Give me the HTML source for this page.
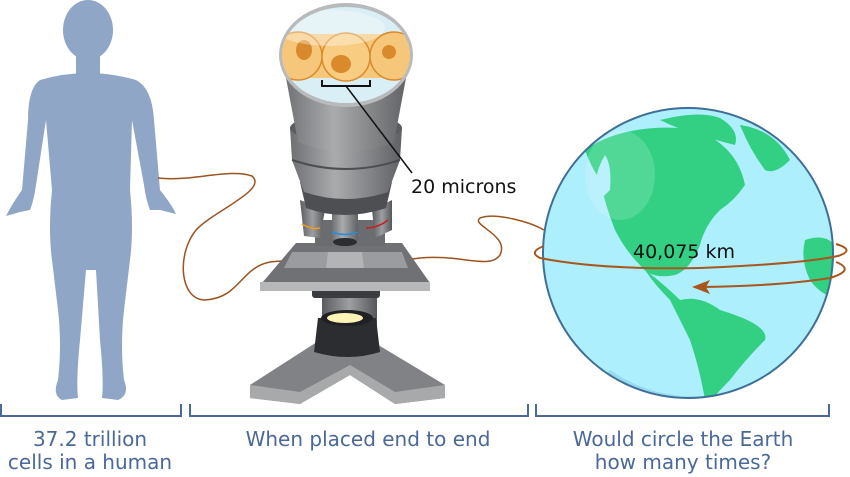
<!DOCTYPE html>
<html><head><meta charset="utf-8"><style>
html,body{margin:0;padding:0;background:#fff;}
svg{display:block;}
text{font-family:"DejaVu Sans","Liberation Sans",sans-serif;}
</style></head><body>
<svg width="850" height="477" viewBox="0 0 850 477" xmlns="http://www.w3.org/2000/svg">
<defs>
<linearGradient id="g1" x1="0" x2="1"><stop offset="0" stop-color="#6d6f72"/><stop offset=".4" stop-color="#a9abad"/><stop offset="1" stop-color="#5f6164"/></linearGradient>
<linearGradient id="g2" x1="0" x2="1"><stop offset="0" stop-color="#5a5c5f"/><stop offset=".5" stop-color="#9c9ea1"/><stop offset="1" stop-color="#555759"/></linearGradient>
<clipPath id="globe"><circle cx="688" cy="253" r="145"/></clipPath>
<clipPath id="lens"><ellipse cx="346" cy="55" rx="64" ry="48"/></clipPath>
</defs>

<!-- Human silhouette -->
<g fill="#8fa6c6">
<ellipse cx="88" cy="30" rx="25" ry="30"/>
<rect x="76" y="50" width="24" height="28"/>
<path d="M40 80 Q88 66 136 80 Q152 88 154 120 L160 190 Q172 205 176 214 L160 210 L150 210 Q146 200 144 185 L132 120 L130 190 Q134 230 130 260 L124 310 Q120 345 124 380 Q130 395 118 400 L102 398 Q104 380 100 340 L96 270 L86 270 L80 340 Q76 380 78 398 L62 400 Q52 395 58 380 Q62 345 58 310 L52 260 Q48 230 52 190 L46 120 L36 185 Q34 200 30 210 L20 212 L6 216 Q12 204 22 190 L28 120 Q28 88 40 80Z"/>
</g>

<!-- brown connector line -->
<path d="M158 178 C190 182 230 168 252 176 C268 190 215 210 196 230 C176 255 180 300 205 300 C240 298 240 268 270 262 C300 258 380 264 420 258 C460 254 490 270 500 255 C510 235 470 225 480 218 C495 212 530 222 544 230" fill="none" stroke="#9b531f" stroke-width="1.5"/>

<!-- Microscope base -->
<path d="M320 340 L370 340 L445 385 L445 398 L395 404 L350 375 L300 404 L250 398 L250 385 Z" fill="#808285"/>
<path d="M250 385 L300 392 L350 365 L395 392 L445 385 L445 398 L395 404 L350 375 L300 404 L250 398Z" fill="#a7a9ab"/>
<rect x="322" y="290" width="55" height="55" fill="url(#g2)"/>
<path d="M318 318 L376 318 L380 352 Q348 362 314 352Z" fill="#2b2d30"/>
<ellipse cx="347" cy="318" rx="26" ry="8" fill="#1f2124"/>
<ellipse cx="345" cy="318" rx="18" ry="5" fill="#fdf3b8"/>
<rect x="312" y="288" width="68" height="10" rx="3" fill="#3a3c3f"/>

<!-- Stage -->
<path d="M296 243 L402 243 L430 283 L262 283 Z" fill="#6f7174"/>
<rect x="260" y="282" width="170" height="9" fill="#b5b7b9"/>
<path d="M292 252 L402 252 L408 268 L284 268Z" fill="#9a9c9f"/>
<path d="M328 252 L362 252 L364 268 L326 268Z" fill="#b2b4b6"/>
<rect x="315" y="220" width="70" height="26" fill="#6a6c6f"/>

<!-- objectives -->
<path d="M300 200 L325 210 L320 238 L304 236 Z" fill="url(#g2)"/>
<path d="M372 210 L392 200 L392 230 L375 238Z" fill="url(#g2)"/>
<path d="M302 224 Q312 230 320 228" stroke="#f29a1c" stroke-width="1.5" fill="none"/>
<path d="M366 228 Q378 228 388 220" stroke="#c0221f" stroke-width="1.5" fill="none"/>
<rect x="332" y="208" width="26" height="32" fill="url(#g1)"/>
<path d="M332 232 Q345 237 358 232" stroke="#1f8fe0" stroke-width="1.5" fill="none"/>
<ellipse cx="345" cy="242" rx="12" ry="4" fill="#2b2d30"/>

<!-- nosepiece -->
<path d="M300 182 L392 182 L386 208 Q345 222 306 208Z" fill="#4d4f52"/>

<!-- collar bowl -->
<path d="M290 128 Q346 108 402 128 L400 160 L388 192 Q346 206 304 192 L292 160Z" fill="url(#g1)"/>
<path d="M292 160 Q346 178 400 160" stroke="#4c4e51" stroke-width="2" fill="none"/>
<ellipse cx="346" cy="128" rx="56" ry="14" fill="#5a5c5f"/>

<!-- eyepiece cone -->
<path d="M283 62 L409 62 L394 142 Q346 162 298 142Z" fill="url(#g1)"/>
<ellipse cx="346" cy="55" rx="67" ry="52" fill="#b8babc"/>
<ellipse cx="346" cy="55" rx="64" ry="48" fill="#d9eef5"/>
<g clip-path="url(#lens)">
<rect x="280" y="34" width="140" height="44" fill="#f4c77a"/>
<circle cx="298" cy="56" r="24" fill="#f6c67a" stroke="#d98a2c" stroke-width="1.5"/>
<circle cx="394" cy="56" r="24" fill="#f6c67a" stroke="#d98a2c" stroke-width="1.5"/>
<circle cx="346" cy="57" r="24" fill="#f8cd82" stroke="#d98a2c" stroke-width="1.5"/>
<ellipse cx="304" cy="50" rx="8" ry="10" fill="#d98a2c"/>
<ellipse cx="341" cy="64" rx="10" ry="9" fill="#d98a2c"/>
<ellipse cx="389" cy="52" rx="7" ry="7" fill="#d98a2c"/>
<ellipse cx="330" cy="28" rx="55" ry="18" fill="#fff" opacity=".35"/>
</g>
<path d="M322 80 L322 86 L370 86 L370 80" stroke="#111" stroke-width="2" fill="none"/>
<line x1="346" y1="86" x2="412" y2="173" stroke="#111" stroke-width="1.5"/>
<text x="411" y="193" font-size="19" fill="#111">20 microns</text>

<!-- Globe -->
<circle cx="688" cy="253" r="145" fill="#aeeffd"/>
<g clip-path="url(#globe)">
<path d="M610 370 A145 145 0 0 0 830 300 L840 420 L560 420Z" fill="#97d9ee"/>
<path d="M585 150 Q620 125 680 128 Q705 130 722 145 Q740 160 745 185 Q735 200 720 210 Q705 225 700 245 Q690 270 675 275 Q650 280 640 265 Q625 250 615 230 Q605 205 600 180 Q590 165 585 150Z" fill="#33d084"/>
<path d="M605 155 Q590 180 600 200 L610 190 Q612 165 605 155Z" fill="#aeeffd"/>
<path d="M660 120 Q700 110 720 118 Q740 130 735 145 Q715 140 700 135 Q680 130 660 120Z" fill="#33d084"/>
<path d="M740 125 Q775 130 790 160 Q775 175 765 170 Q750 150 740 125Z" fill="#33d084"/>
<path d="M645 270 Q665 285 680 300 Q700 295 720 310 Q770 325 765 340 Q745 360 730 380 Q715 395 712 400 L705 400 Q700 370 690 340 Q680 320 670 300 Q655 285 645 270Z" fill="#33d084"/>
<path d="M805 240 Q835 230 840 260 L840 300 Q820 295 810 280 Q800 260 805 240Z" fill="#33d084"/>
<ellipse cx="620" cy="175" rx="35" ry="45" fill="#fff" opacity=".15"/>
</g>
<circle cx="688" cy="253" r="145" fill="none" stroke="#3f6f98" stroke-width="2"/>

<!-- orbit -->
<path d="M544 246 Q528 252 540 258 Q600 270 700 268 Q800 264 838 256 Q856 250 836 244" fill="none" stroke="#a8561d" stroke-width="2"/>
<path d="M836 262 Q856 270 830 278 Q780 286 700 287" fill="none" stroke="#a8561d" stroke-width="2"/>
<path d="M692 287 L710 280 L706 287 L710 294Z" fill="#a8561d"/>
<text x="633" y="258" font-size="19" fill="#111">40,075 km</text>

<!-- brackets -->
<g stroke="#4a6898" stroke-width="2" fill="none">
<path d="M1 404 L1 416 L181 416 L181 404"/>
<path d="M190 404 L190 416 L528 416 L528 404"/>
<path d="M536 404 L536 416 L829 416 L829 404"/>
</g>
<g fill="#4a6898" font-size="20" text-anchor="middle">
<text x="90" y="446">37.2 trillion</text>
<text x="90" y="469">cells in a human</text>
<text x="368" y="446">When placed end to end</text>
<text x="683" y="446">Would circle the Earth</text>
<text x="683" y="469">how many times?</text>
</g>
</svg>
</body></html>
